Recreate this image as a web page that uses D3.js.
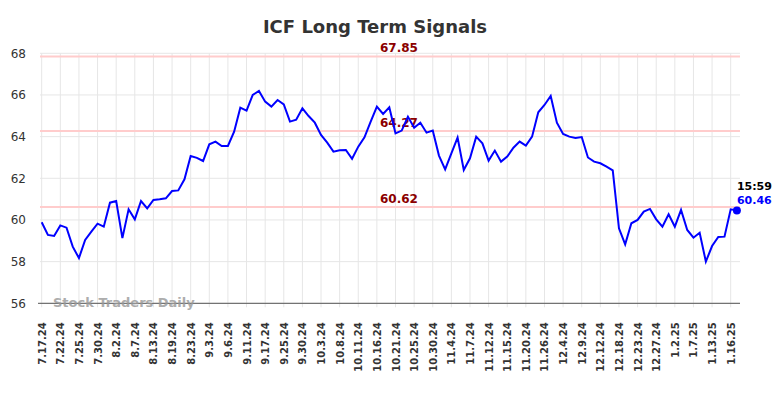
<!DOCTYPE html>
<html>
<head>
<meta charset="utf-8">
<script src="https://cdn.jsdelivr.net/npm/d3@7"></script>
<style>
  body { margin: 0; background: #fff; }
  #chart text { font-family: "DejaVu Sans", sans-serif; }
</style>
</head>
<body>
<div id="chart"></div>
<script>
// closing prices, one per trading day (index based x axis)
const prices = [
  59.89, 59.28, 59.23, 59.74, 59.63, 58.72, 58.17, 59.04, 59.44, 59.82,
  59.68, 60.83, 60.91, 59.13, 60.51, 60.03, 60.91, 60.56, 60.96, 60.99,
  61.04, 61.39, 61.42, 61.95, 63.07, 62.98, 62.83, 63.63, 63.76, 63.55,
  63.55, 64.24, 65.39, 65.25, 66.00, 66.19, 65.68, 65.44, 65.76, 65.55,
  64.72, 64.81, 65.36, 64.99, 64.67, 64.08, 63.71, 63.28, 63.35, 63.36,
  62.94, 63.52, 63.97, 64.72, 65.44, 65.09, 65.41, 64.16, 64.29, 64.96,
  64.43, 64.67, 64.19, 64.29, 63.09, 62.43, 63.20, 63.95, 62.40, 62.96,
  64.00, 63.68, 62.85, 63.33, 62.80, 63.04, 63.47, 63.76, 63.57, 64.00,
  65.17, 65.52, 65.95, 64.67, 64.13, 64.00, 63.94, 63.98, 63.00, 62.80,
  62.72, 62.56, 62.38, 59.60, 58.83, 59.84, 60.00, 60.40, 60.53, 60.03,
  59.68, 60.27, 59.68, 60.48, 59.52, 59.15, 59.39, 58.00, 58.75, 59.18,
  59.20, 60.51, 60.46
];

// x tick labels, one every 3rd trading day
const tickLabels = [
  "7.17.24", "7.22.24", "7.25.24", "7.30.24", "8.2.24", "8.7.24", "8.13.24",
  "8.19.24", "8.23.24", "9.3.24", "9.6.24", "9.11.24", "9.17.24", "9.25.24",
  "9.30.24", "10.3.24", "10.8.24", "10.11.24", "10.16.24", "10.21.24",
  "10.25.24", "10.30.24", "11.4.24", "11.7.24", "11.12.24", "11.15.24",
  "11.20.24", "11.26.24", "12.4.24", "12.9.24", "12.12.24", "12.18.24",
  "12.23.24", "12.27.24", "1.2.25", "1.7.25", "1.13.25", "1.16.25"
];

const yTicks = [56, 58, 60, 62, 64, 66, 68];
const signalLevels = [67.85, 64.27, 60.62];
const lastTime = "15:59";

const width = 784;
const height = 398;
const plotLeft = 40, plotRight = 740, plotTop = 53.3, plotBottom = 303.3;

const xScale = d3.scaleLinear()
  .domain([0, prices.length - 1])
  .range([41.7, 736.9]);

const yScale = d3.scaleLinear()
  .domain([56, 68])
  .range([plotBottom, plotTop]);

const svg = d3.select("#chart").append("svg")
  .attr("width", width)
  .attr("height", height);

/* title */
svg.append("text")
  .attr("x", 375)
  .attr("y", 33)
  .attr("text-anchor", "middle")
  .style("font-size", "18px")
  .style("font-weight", "bold")
  .style("fill", "#333")
  .text("ICF Long Term Signals");

/* grid */
const tickIdx = tickLabels.map((d, i) => i * 3);

svg.append("g")
  .selectAll("line")
  .data(yTicks).enter()
  .append("line")
  .attr("x1", plotLeft).attr("x2", plotRight)
  .attr("y1", d => yScale(d)).attr("y2", d => yScale(d))
  .style("stroke", "#e6e6e6")
  .style("stroke-width", 1);

svg.append("g")
  .selectAll("line")
  .data(tickIdx).enter()
  .append("line")
  .attr("x1", d => xScale(d)).attr("x2", d => xScale(d))
  .attr("y1", plotTop).attr("y2", plotBottom + 4)
  .style("stroke", "#e6e6e6")
  .style("stroke-width", 1);

/* signal levels */
svg.append("g")
  .selectAll("line")
  .data(signalLevels).enter()
  .append("line")
  .attr("x1", plotLeft).attr("x2", plotRight)
  .attr("y1", d => yScale(d)).attr("y2", d => yScale(d))
  .style("stroke", "#ffcccc")
  .style("stroke-width", 2);

/* y axis labels */
const yAxis = d3.axisLeft(yScale).tickValues(yTicks).tickSize(0).tickPadding(0);
svg.append("g")
  .attr("transform", `translate(26, 0)`)
  .call(yAxis)
  .call(g => g.select(".domain").remove())
  .selectAll("text")
  .style("font-size", "12px")
  .style("fill", "#333");

/* x axis */
const xAxis = d3.axisBottom(xScale)
  .tickValues(tickIdx)
  .tickFormat((d, i) => tickLabels[i])
  .tickSize(0);

const xg = svg.append("g")
  .attr("transform", `translate(0, ${plotBottom})`)
  .call(xAxis);
xg.select(".domain").remove();
xg.selectAll("text")
  .attr("transform", "rotate(-90)")
  .attr("text-anchor", "end")
  .attr("x", -19)
  .attr("y", 0)
  .attr("dy", "0.35em")
  .style("font-size", "10px")
  .style("font-weight", "bold")
  .style("fill", "#333");

svg.append("line")
  .attr("x1", 38).attr("x2", plotRight)
  .attr("y1", plotBottom).attr("y2", plotBottom)
  .style("stroke", "#555")
  .style("stroke-width", 1);

/* watermark */
svg.append("text")
  .attr("x", 53)
  .attr("y", 307)
  .style("font-size", "13px")
  .style("font-weight", "bold")
  .style("fill", "#999")
  .style("opacity", 0.8)
  .text("Stock Traders Daily");

/* signal level labels */
svg.append("g")
  .selectAll("text")
  .data(signalLevels).enter()
  .append("text")
  .attr("x", 399)
  .attr("y", d => yScale(d) - 4)
  .attr("text-anchor", "middle")
  .style("font-size", "12px")
  .style("font-weight", "bold")
  .style("fill", "#8b0000")
  .text(d => d.toFixed(2));

/* price line */
const line = d3.line()
  .x((d, i) => xScale(i))
  .y(d => yScale(d));

svg.append("path")
  .datum(prices)
  .attr("d", line)
  .style("fill", "none")
  .style("stroke", "#0000ff")
  .style("stroke-width", 2);

/* last point */
const lastI = prices.length - 1;
const last = prices[lastI];
svg.append("circle")
  .attr("cx", xScale(lastI))
  .attr("cy", yScale(last))
  .attr("r", 4)
  .style("fill", "#0000ff");

svg.append("text")
  .attr("x", xScale(lastI))
  .attr("y", yScale(last) - 20)
  .style("font-size", "11px")
  .style("font-weight", "bold")
  .style("fill", "#000")
  .text(lastTime);

svg.append("text")
  .attr("x", xScale(lastI))
  .attr("y", yScale(last) - 6)
  .style("font-size", "11px")
  .style("font-weight", "bold")
  .style("fill", "#0000ff")
  .text(last.toFixed(2));
</script>
</body>
</html>
